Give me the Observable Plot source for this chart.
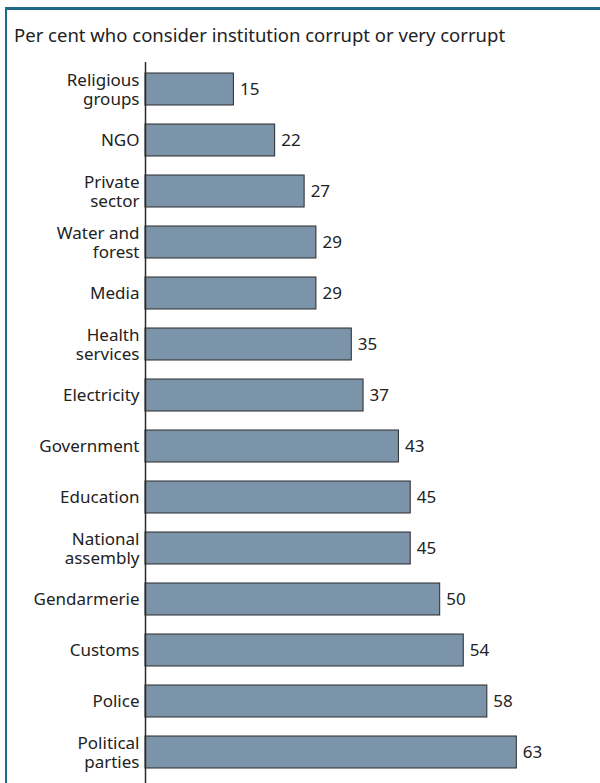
<!DOCTYPE html>
<html>
<head>
<meta charset="utf-8">
<script src="https://cdn.jsdelivr.net/npm/d3@7"></script>
<script src="https://cdn.jsdelivr.net/npm/@observablehq/plot@0.6"></script>
<style>
  html, body { margin: 0; padding: 0; background: #fff; }
  #wrap { position: relative; width: 600px; height: 783px; overflow: hidden; font-family: "Noto Sans", sans-serif; }
  #topline { position: absolute; left: 5px; top: 7px; width: 595px; height: 3px; background: #1d6a87; }
  #leftline { position: absolute; left: 5px; top: 7px; width: 2px; height: 776px; background: #1d6a87; }
  #title { position: absolute; left: 14px; top: 23px; font-size: 18.5px; line-height: 24px; color: #222; white-space: nowrap; }
  #chart { position: absolute; left: 0; top: 50px; }
</style>
</head>
<body>
<div id="wrap">
  <div id="topline"></div>
  <div id="leftline"></div>
  <div id="title">Per cent who consider institution corrupt or very corrupt</div>
  <div id="chart"></div>
</div>
<script>
const categories = ["Religious groups", "NGO", "Private sector", "Water and forest", "Media", "Health services", "Electricity", "Government", "Education", "National assembly", "Gendarmerie", "Customs", "Police", "Political parties"];
const labels = ["Religious\ngroups", "NGO", "Private\nsector", "Water and\nforest", "Media", "Health\nservices", "Electricity", "Government", "Education", "National\nassembly", "Gendarmerie", "Customs", "Police", "Political\nparties"];
const values = [15, 22, 27, 29, 29, 35, 37, 43, 45, 45, 50, 54, 58, 63];

const data = categories.map((c, i) => ({name: c, label: labels[i], value: values[i]}));

const chart = Plot.plot({
  width: 600,
  height: 733,
  marginLeft: 145,
  marginRight: 0,
  marginTop: 12,
  marginBottom: 0,
  style: {fontFamily: "Noto Sans, sans-serif", fontSize: "17px", color: "#222", background: "transparent", overflow: "visible"},
  x: {domain: [0, 77.2], axis: null},
  y: {domain: categories, paddingInner: 0.38, paddingOuter: 0.1, insetTop: 4, insetBottom: 8, axis: null},
  marks: [
    Plot.barX(data, {x: "value", y: "name", fill: "#7b94aa", stroke: "#2a2a2a", strokeWidth: 1}),
    Plot.ruleX([0], {stroke: "#2a2a2a", strokeWidth: 1.5}),
    Plot.text(data, {x: 0, y: "name", text: "label", textAnchor: "end", dx: -6, lineHeight: 1.08, fill: "#222", fontSize: 17}),
    Plot.text(data, {x: "value", y: "name", text: d => String(d.value), textAnchor: "start", dx: 6, fill: "#222", fontSize: 17})
  ]
});
document.getElementById("chart").appendChild(chart);
</script>
</body>
</html>
